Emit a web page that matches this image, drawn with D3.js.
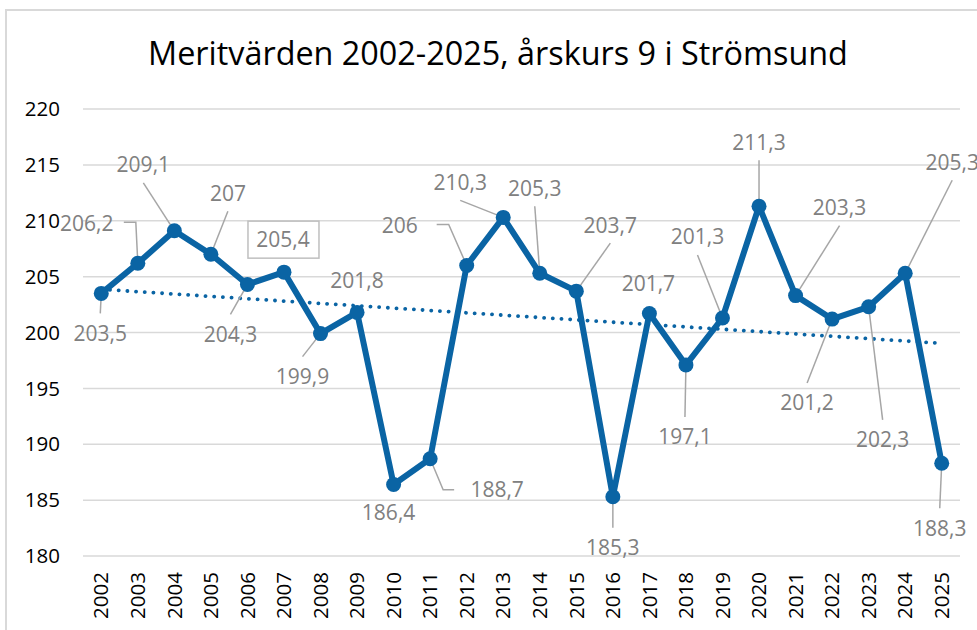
<!DOCTYPE html>
<html>
<head>
<meta charset="utf-8">
<script src="https://cdn.jsdelivr.net/npm/d3@7"></script>
<style>
  body { margin: 0; background: #fff; }
  svg text { font-family: "Open Sans", "Noto Sans", sans-serif; }
</style>
</head>
<body>
<script>
// data
const years = [2002, 2003, 2004, 2005, 2006, 2007, 2008, 2009, 2010, 2011, 2012, 2013,
  2014, 2015, 2016, 2017, 2018, 2019, 2020, 2021, 2022, 2023, 2024, 2025];
const values = [203.5, 206.2, 209.1, 207, 204.3, 205.4, 199.9, 201.8, 186.4, 188.7, 206, 210.3,
  205.3, 203.7, 185.3, 201.7, 197.1, 201.3, 211.3, 203.3, 201.2, 202.3, 205.3, 188.3];
const yTicks = [180, 185, 190, 195, 200, 205, 210, 215, 220];
const title = "Meritvärden 2002-2025, årskurs 9 i Strömsund";

// where each data label sits, relative to its point (px), and how its leader line runs
const labelPlace = [
  [-1, 40, "v"], [-51, -40, "elbowL"], [-31, -66, "v"], [17, -61, "v"], [-17, 50, "v"],
  [-1, -33, "box"], [-18, 43, "v"], [0, -32, "none"], [-5, 28, "none"], [67, 31, "elbowR"],
  [-67, -40, "elbowL"], [-43, -35, "v"], [-5, -85, "v"], [34, -66, "v"], [0, 51, "v"],
  [-1, -30, "none"], [-1, 72, "v"], [-25, -81, "v"], [0, -64, "v"], [44, -88, "v"],
  [-25, 84, "v"], [14, 133, "v"], [47, -111, "v"], [-2, 65, "v"]
];

const W = 977, H = 630;
const blue = "#0a64a4", grid = "#d9d9d9", labelGray = "#808080", leaderGray = "#a6a6a6";

const svg = d3.select("body").append("svg")
  .attr("width", W)
  .attr("height", H);

// chart border
svg.append("rect")
  .attr("x", 6).attr("y", 10)
  .attr("width", W + 10).attr("height", H + 10)
  .attr("fill", "none")
  .attr("stroke", grid)
  .attr("stroke-width", 2);

const x = d3.scaleBand().domain(years).range([83, 960]);
const y = d3.scaleLinear().domain([180, 220]).range([556, 109]);
const cx = d => x(d) + x.bandwidth() / 2;

// title, fitted to the reference width
const t = svg.append("text")
  .attr("x", 498).attr("y", 65)
  .attr("text-anchor", "middle")
  .attr("font-size", 30)
  .attr("fill", "#000")
  .text(title);
const tw = t.node().getComputedTextLength();
t.attr("font-size", 30 * 700 / tw);

// gridlines
svg.append("g").selectAll("line")
  .data(yTicks)
  .enter().append("line")
  .attr("x1", 83).attr("x2", 960)
  .attr("y1", d => y(d)).attr("y2", d => y(d))
  .attr("stroke", grid)
  .attr("stroke-width", 1.5);

// y axis labels
svg.append("g").selectAll("text")
  .data(yTicks)
  .enter().append("text")
  .attr("x", 60)
  .attr("y", d => y(d))
  .attr("dy", "0.35em")
  .attr("text-anchor", "end")
  .attr("font-size", 20.5)
  .attr("fill", "#000")
  .text(d => d);

// x axis labels, rotated
svg.append("g").selectAll("text")
  .data(years)
  .enter().append("text")
  .attr("transform", d => `translate(${cx(d)},572) rotate(-90)`)
  .attr("dy", "0.35em")
  .attr("text-anchor", "end")
  .attr("font-size", 20.5)
  .attr("fill", "#000")
  .text(d => d);

// linear trend (least squares)
const idx = years.map((d, i) => i);
const mx = d3.mean(idx), my = d3.mean(values);
const slope = d3.sum(idx, i => (i - mx) * (values[i] - my)) / d3.sum(idx, i => (i - mx) * (i - mx));
const trend = i => my + slope * (i - mx);
svg.append("line")
  .attr("x1", cx(years[0])).attr("y1", y(trend(0)))
  .attr("x2", cx(years[years.length - 1])).attr("y2", y(trend(years.length - 1)))
  .attr("stroke", blue)
  .attr("stroke-width", 3.8)
  .attr("stroke-linecap", "round")
  .attr("stroke-dasharray", "0.1 8.6");

// leader lines
const leaders = svg.append("g")
  .attr("fill", "none")
  .attr("stroke", leaderGray)
  .attr("stroke-width", 1.5);
years.forEach((yr, i) => {
  const [dx, dy, kind] = labelPlace[i];
  const px = cx(yr), py = y(values[i]);
  const lx = px + dx, ly = py + dy;
  let pts = null;
  if (kind == "v") {
    pts = [[lx, dy < 0 ? ly + 18 : ly - 20], [px, py]];
  } else if (kind == "elbowL") {
    pts = [[lx + 37, ly - 1], [lx + 49, ly - 1], [px, py]];
  } else if (kind == "elbowR") {
    pts = [[lx - 43, ly], [lx - 54, ly], [px, py]];
  }
  if (pts) leaders.append("path").attr("d", d3.line()(pts));
});

// data line
svg.append("path")
  .datum(values)
  .attr("d", d3.line().x((d, i) => cx(years[i])).y(d => y(d)))
  .attr("fill", "none")
  .attr("stroke", blue)
  .attr("stroke-width", 6)
  .attr("stroke-linejoin", "round");

// markers
svg.append("g").selectAll("circle")
  .data(values)
  .enter().append("circle")
  .attr("cx", (d, i) => cx(years[i]))
  .attr("cy", d => y(d))
  .attr("r", 7.5)
  .attr("fill", blue);

// data labels
const fmt = v => String(v).replace(".", ",");
const lab = svg.append("g");
years.forEach((yr, i) => {
  const [dx, dy, kind] = labelPlace[i];
  const lx = cx(yr) + dx, ly = y(values[i]) + dy;
  if (kind == "box") {
    lab.append("rect")
      .attr("x", lx - 35).attr("y", ly - 18)
      .attr("width", 71).attr("height", 37)
      .attr("fill", "#fff")
      .attr("stroke", "#bfbfbf")
      .attr("stroke-width", 1.5);
  }
  lab.append("text")
    .attr("x", lx).attr("y", ly)
    .attr("dy", "0.35em")
    .attr("text-anchor", "middle")
    .attr("font-size", 21)
    .attr("fill", labelGray)
    .text(fmt(values[i]));
});
</script>
</body>
</html>
